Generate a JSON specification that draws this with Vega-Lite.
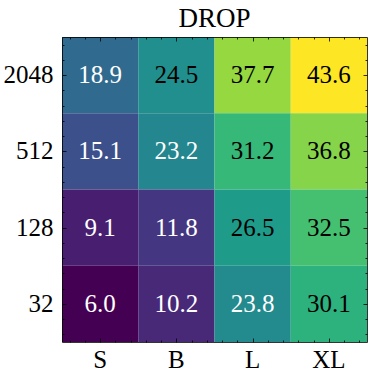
{
  "$schema": "https://vega.github.io/schema/vega-lite/v6.json",
  "width": 305,
  "height": 305,
  "autosize": {"type": "none"},
  "padding": {"left": 62, "top": 37, "right": 6, "bottom": 35},
  "background": "white",
  "view": {"stroke": null},
  "title": {"text": "DROP", "font": "Liberation Serif", "fontSize": 27, "fontWeight": "normal", "color": "black", "baseline": "alphabetic", "offset": 10, "dy": 27, "anchor": "middle", "frame": "group"},
  "config": {"axis": {"grid": false}},
  "layer": [
    {
      "data": {"values": [
        {"size": "S", "len": "2048", "value": 18.9},
        {"size": "B", "len": "2048", "value": 24.5},
        {"size": "L", "len": "2048", "value": 37.7},
        {"size": "XL", "len": "2048", "value": 43.6},
        {"size": "S", "len": "512", "value": 15.1},
        {"size": "B", "len": "512", "value": 23.2},
        {"size": "L", "len": "512", "value": 31.2},
        {"size": "XL", "len": "512", "value": 36.8},
        {"size": "S", "len": "128", "value": 9.1},
        {"size": "B", "len": "128", "value": 11.8},
        {"size": "L", "len": "128", "value": 26.5},
        {"size": "XL", "len": "128", "value": 32.5},
        {"size": "S", "len": "32", "value": 6.0},
        {"size": "B", "len": "32", "value": 10.2},
        {"size": "L", "len": "32", "value": 23.8},
        {"size": "XL", "len": "32", "value": 30.1}
      ]},
      "encoding": {
        "x": {"field": "size", "type": "nominal", "sort": ["S", "B", "L", "XL"], "scale": {"paddingInner": 0, "paddingOuter": 0},
          "axis": {"orient": "bottom", "title": null, "ticks": false, "domain": false, "labelAngle": 0, "labelFont": "Liberation Serif", "labelFontSize": 25, "labelColor": "black", "labelBaseline": "alphabetic", "labelPadding": 25}},
        "y": {"field": "len", "type": "nominal", "sort": ["2048", "512", "128", "32"], "scale": {"paddingInner": 0, "paddingOuter": 0},
          "axis": {"orient": "left", "title": null, "ticks": false, "domain": false, "labelFont": "Liberation Serif", "labelFontSize": 25, "labelColor": "black", "labelPadding": 9}}
      },
      "layer": [
        {"mark": {"type": "rect"},
         "encoding": {"color": {"field": "value", "type": "quantitative", "scale": {"scheme": "viridis", "zero": false}, "legend": null}}},
        {"mark": {"type": "text", "font": "Liberation Serif", "fontSize": 25, "baseline": "middle", "align": "center"},
         "encoding": {"text": {"field": "value", "type": "quantitative", "format": ".1f"},
           "color": {"condition": {"test": "datum.value < 24", "value": "white"}, "value": "black"}}}
      ]
    },
    {
      "data": {"values": [{"v": 0}]},
      "mark": {"type": "point", "opacity": 0},
      "encoding": {
        "x": {"field": "v", "type": "quantitative", "scale": {"domain": [-0.5, 3.5], "nice": false, "zero": false},
          "axis": {"orient": "bottom", "zindex": 1, "title": null, "labels": false, "domain": true, "domainColor": "black", "domainWidth": 0.8, "grid": false, "tickColor": "black", "tickWidth": 0.8,
            "tickSize": {"condition": {"test": "abs(datum.value - round(datum.value)) < 0.01", "value": -4}, "value": -2},
            "values": [-0.4, -0.2, 0, 0.2, 0.4, 0.6, 0.8, 1, 1.2, 1.4, 1.6, 1.8, 2, 2.2, 2.4, 2.6, 2.8, 3, 3.2, 3.4]}},
        "y": {"field": "v", "type": "quantitative", "scale": {"domain": [-0.5, 3.5], "nice": false, "zero": false},
          "axis": {"orient": "left", "zindex": 1, "title": null, "labels": false, "domain": true, "domainColor": "black", "domainWidth": 0.8, "grid": false, "tickColor": "black", "tickWidth": 0.8,
            "tickSize": {"condition": {"test": "abs(datum.value - round(datum.value)) < 0.01", "value": -4}, "value": -2},
            "values": [-0.4, -0.2, 0, 0.2, 0.4, 0.6, 0.8, 1, 1.2, 1.4, 1.6, 1.8, 2, 2.2, 2.4, 2.6, 2.8, 3, 3.2, 3.4]}}
      }
    },
    {
      "data": {"values": [{"v": 0}]},
      "mark": {"type": "point", "opacity": 0},
      "encoding": {
        "x": {"field": "v", "type": "quantitative", "scale": {"domain": [-0.5, 3.5], "nice": false, "zero": false},
          "axis": {"orient": "top", "zindex": 1, "minExtent": 0, "maxExtent": 0, "title": null, "labels": false, "domain": true, "domainColor": "black", "domainWidth": 0.8, "grid": false, "tickColor": "black", "tickWidth": 0.8,
            "tickSize": {"condition": {"test": "abs(datum.value - round(datum.value)) < 0.01", "value": -4}, "value": -2},
            "values": [-0.4, -0.2, 0, 0.2, 0.4, 0.6, 0.8, 1, 1.2, 1.4, 1.6, 1.8, 2, 2.2, 2.4, 2.6, 2.8, 3, 3.2, 3.4]}},
        "y": {"field": "v", "type": "quantitative", "scale": {"domain": [-0.5, 3.5], "nice": false, "zero": false},
          "axis": {"orient": "right", "zindex": 1, "minExtent": 0, "maxExtent": 0, "title": null, "labels": false, "domain": true, "domainColor": "black", "domainWidth": 0.8, "grid": false, "tickColor": "black", "tickWidth": 0.8,
            "tickSize": {"condition": {"test": "abs(datum.value - round(datum.value)) < 0.01", "value": -4}, "value": -2},
            "values": [-0.4, -0.2, 0, 0.2, 0.4, 0.6, 0.8, 1, 1.2, 1.4, 1.6, 1.8, 2, 2.2, 2.4, 2.6, 2.8, 3, 3.2, 3.4]}}
      }
    }
  ],
  "resolve": {"scale": {"x": "independent", "y": "independent"}, "axis": {"x": "independent", "y": "independent"}}
}
